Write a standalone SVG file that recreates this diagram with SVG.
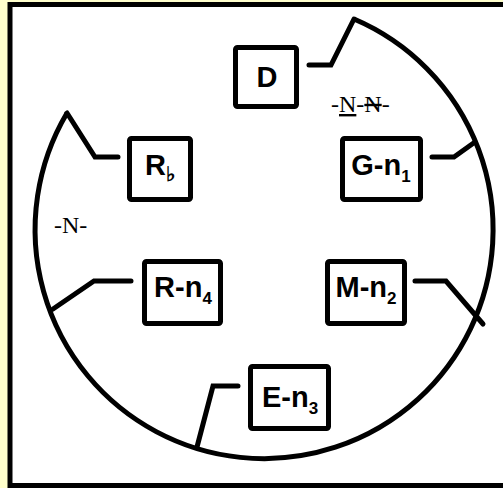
<svg xmlns="http://www.w3.org/2000/svg" width="503" height="488" viewBox="0 0 503 488">
  <style>
    .frame { fill: #ffffff; stroke: #000000; stroke-width: 5; }
    .ring { fill: none; stroke: #000000; stroke-width: 5; }
    .wire { fill: none; stroke: #000000; stroke-width: 5; stroke-linecap: round; stroke-linejoin: miter; }
    .box { fill: #ffffff; stroke: #000000; stroke-width: 5; }
    .lbl { font-family: "Liberation Sans", Arial, sans-serif; font-weight: bold; font-size: 29px; fill: #000000; text-anchor: middle; }
    .sub { font-size: 17px; }
    .note { font-family: "Liberation Serif", "Times New Roman", serif; font-size: 24px; fill: #000000; }
  </style>

  <!-- page background and frame -->
  <rect x="0" y="0" width="503" height="488" fill="#ffffcc"/>
  <rect class="frame" x="10" y="4.5" width="600" height="481"/>

  <!-- open ring: runs from the upper-left notch round to the top -->
  <path class="ring" d="M 67 113 A 229 229 0 1 0 354 19"/>

  <g id="connectors">
    <path class="wire" d="M 309 65 L 331 65 L 354 19"/>
    <path class="wire" d="M 118 157 L 95 157 L 67 113"/>
    <path class="wire" d="M 432 157 L 454 157 L 475 142"/>
    <path class="wire" d="M 415 281 L 446 281 L 483 324"/>
    <path class="wire" d="M 131 281 L 94 281 L 53 309"/>
    <path class="wire" d="M 238 386 L 213 386 L 197 447"/>
  </g>

  <g id="node-D">
    <rect class="box" x="235.5" y="47.5" width="61" height="59" rx="2"/>
    <text class="lbl" x="267" y="87">D</text>
  </g>

  <g id="node-R">
    <rect class="box" x="129.5" y="138.5" width="61" height="61" rx="2"/>
    <text class="lbl" x="160" y="175">R<tspan class="sub" dy="6" style="font-size:20px">♭</tspan></text>
  </g>

  <g id="node-G-n1">
    <rect class="box" x="342.5" y="138.5" width="78" height="61" rx="2"/>
    <text class="lbl" x="381" y="175">G-n<tspan class="sub" dy="7">1</tspan></text>
  </g>

  <g id="node-R-n4">
    <rect class="box" x="144.5" y="261.5" width="76" height="62" rx="2"/>
    <text class="lbl" x="183" y="297">R-n<tspan class="sub" dy="7">4</tspan></text>
  </g>

  <g id="node-M-n2">
    <rect class="box" x="327.5" y="261.5" width="77" height="62" rx="2"/>
    <text class="lbl" x="366" y="297">M-n<tspan class="sub" dy="7">2</tspan></text>
  </g>

  <g id="node-E-n3">
    <rect class="box" x="250.5" y="366.5" width="78" height="62" rx="2"/>
    <text class="lbl" x="290" y="407">E-n<tspan class="sub" dy="7">3</tspan></text>
  </g>

  <!-- free-standing annotations -->
  <text class="note" x="331" y="112">-<tspan text-decoration="underline">N</tspan>-<tspan text-decoration="line-through">N</tspan>-</text>
  <text class="note" x="54" y="233">-N-</text>
</svg>
